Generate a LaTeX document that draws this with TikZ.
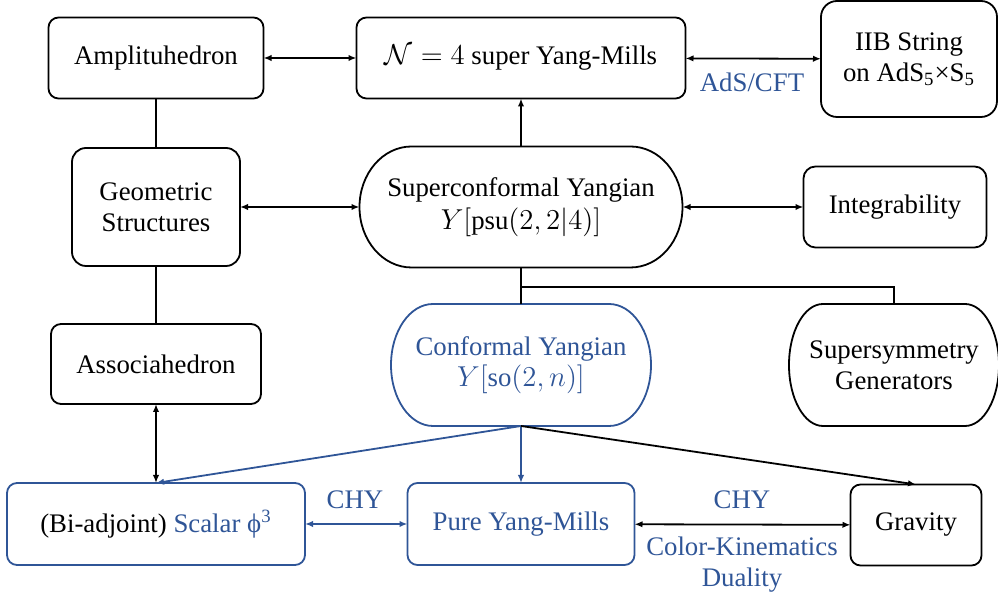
\documentclass[tikz,border=0pt]{standalone}
\usepackage{fontspec}
\setmainfont{Liberation Serif}
\usepackage{amsmath}
\usetikzlibrary{arrows.meta, calc}
\definecolor{link}{HTML}{2F5597}
\newcommand{\labelfont}{\fontsize{13.4}{15.5}\selectfont}
\tikzset{
  box/.style={draw, line width=0.9pt, rounded corners=5pt, align=center,
    inner sep=0pt, outer sep=0pt, font=\labelfont},
  pill/.style={align=center, inner sep=0pt, outer sep=0pt, font=\labelfont},
  conn/.style={line width=0.9pt},
  biarrow/.style={conn, {Latex[length=4pt,width=3.2pt]}-{Latex[length=4pt,width=3.2pt]}},
  toarrow/.style={conn, -{Latex[length=4pt,width=3.2pt]}},
  lbl/.style={text=link, align=center, font=\labelfont},
}
% rounded box with elliptic ends: node, x radius, colour, y radius
\newcommand{\pillshape}[4]{%
  \draw[#3, line width=0.9pt] ($(#1.north west)+(#2,0)$) -- ($(#1.north east)+(-#2,0)$)
    arc[start angle=90, end angle=-90, x radius=#2, y radius=#4]
    -- ($(#1.south west)+(#2,0)$)
    arc[start angle=270, end angle=90, x radius=#2, y radius=#4] -- cycle;
}

\begin{document}
\begin{tikzpicture}[x=0.5pt, y=0.5pt]
  \useasboundingbox (0,0) rectangle (998,598);

  % top row
  \node[box, minimum width=107.5pt, minimum height=40.5pt] (amp) at (156,540) {Amplituhedron};
  \node[box, minimum width=164.5pt, minimum height=40.5pt] (sym) at (521,540) {$\mathcal{N} = 4$ super Yang-Mills};
  \node[box, rounded corners=8pt, minimum width=88pt, minimum height=58pt] (iib) at (909,539)
    {IIB String\\on AdS\textsubscript{5}×S\textsubscript{5}};

  % middle row
  \node[box, rounded corners=7pt, minimum width=84pt, minimum height=59pt] (geo) at (156,391) {Geometric\\Structures};
  \node[pill, minimum width=161.5pt, minimum height=60.5pt] (scy) at (521,391)
    {Superconformal Yangian\\[1pt]$Y[\mathrm{psu}(2,2|4)]$};
  \pillshape{scy}{26pt}{black}{30.25pt}
  \node[box, rounded corners=6pt, minimum width=91.5pt, minimum height=40.5pt] (integ) at (895,391) {Integrability};

  % lower row
  \node[box, minimum width=105pt, minimum height=40pt] (asso) at (156,234) {Associahedron};
  \node[pill, text=link, minimum width=130pt, minimum height=61pt] (cy) at (521,233)
    {Conformal Yangian\\$Y[\mathrm{so}(2,n)]$};
  \pillshape{cy}{21pt}{link}{30.5pt}
  \node[pill, minimum width=105pt, minimum height=61pt] (susy) at (894,233) {Supersymmetry\\Generators};
  \pillshape{susy}{17pt}{black}{30.5pt}

  % amplitudes
  \node[box, draw=link, minimum width=149pt, minimum height=41pt] (scalar) at (156,74)
    {(Bi-adjoint) \textcolor{link}{Scalar ϕ\textsuperscript{3}}};
  \node[box, draw=link, text=link, minimum width=113.5pt, minimum height=41pt] (pym) at (521,74) {Pure Yang-Mills};
  \node[box, minimum width=65.5pt, minimum height=40.5pt] (grav) at (916,73) {Gravity};

  % connectors
  \draw[biarrow] (amp) -- (sym);
  \draw[biarrow] (sym) -- (iib);
  \node[lbl] (adscft) at (752,516) {AdS/CFT};
  \draw[toarrow] (scy.north) -- (sym.south);
  \draw[conn] (amp.south) -- (geo.north);
  \draw[conn] (geo.south) -- (asso.north);
  \draw[biarrow] (geo) -- (scy);
  \draw[biarrow] (scy) -- (integ);
  \draw[conn] (scy.south) -- (cy.north);
  \coordinate (fork) at (521,311);
  \draw[conn] (fork) -| (susy.north);
  \draw[biarrow] (asso.south) -- (scalar.north);
  \draw[toarrow, link] (cy.south) -- (scalar.north);
  \draw[toarrow, link] (cy.south) -- (pym.north);
  \draw[toarrow] (cy.south) -- (grav.north);
  \draw[biarrow, link] (scalar) -- (pym);
  \node[lbl] (chyA) at (355,98) {CHY};
  \draw[biarrow] (pym) -- (grav);
  \node[lbl] (chyB) at (742,98) {CHY};
  \node[lbl] (ckd) at (742,33) {Color-Kinematics\\Duality};
\end{tikzpicture}
\end{document}
